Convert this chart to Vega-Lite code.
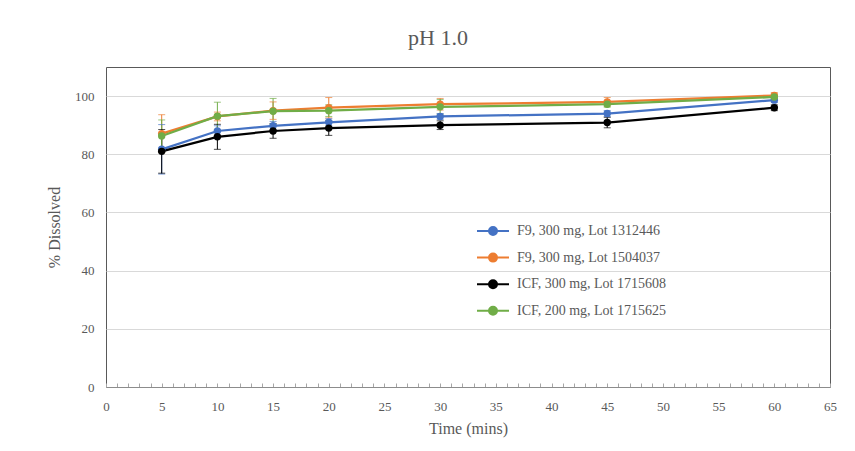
{
  "$schema": "https://vega.github.io/schema/vega-lite/v6.json",
  "autosize": {"type": "none"},
  "width": 724,
  "height": 320,
  "padding": {"left": 106, "top": 67, "right": 25, "bottom": 64},
  "background": "white",
  "title": {"text": "pH 1.0", "font": "Liberation Serif", "fontSize": 22, "fontWeight": "normal", "color": "#595959", "anchor": "middle", "dx": -30, "offset": 17},
  "config": {"view": {"stroke": "#595959", "strokeWidth": 1}},
  "data": {"values": [
    {"s": "F9, 300 mg, Lot 1312446", "t": 5, "y": 81.7, "lo": 73.2, "hi": 90.2},
    {"s": "F9, 300 mg, Lot 1312446", "t": 10, "y": 88, "lo": 86.2, "hi": 89.8},
    {"s": "F9, 300 mg, Lot 1312446", "t": 15, "y": 89.8, "lo": 88.3, "hi": 91.3},
    {"s": "F9, 300 mg, Lot 1312446", "t": 20, "y": 91, "lo": 89.8, "hi": 92.2},
    {"s": "F9, 300 mg, Lot 1312446", "t": 30, "y": 93, "lo": 92, "hi": 94},
    {"s": "F9, 300 mg, Lot 1312446", "t": 45, "y": 94, "lo": 93, "hi": 95},
    {"s": "F9, 300 mg, Lot 1312446", "t": 60, "y": 98.6, "lo": 97.8, "hi": 99.4},
    {"s": "F9, 300 mg, Lot 1504037", "t": 5, "y": 87.1, "lo": 80.6, "hi": 93.6},
    {"s": "F9, 300 mg, Lot 1504037", "t": 10, "y": 93, "lo": 91.5, "hi": 94.5},
    {"s": "F9, 300 mg, Lot 1504037", "t": 15, "y": 95, "lo": 92, "hi": 98},
    {"s": "F9, 300 mg, Lot 1504037", "t": 20, "y": 96, "lo": 92.5, "hi": 99.5},
    {"s": "F9, 300 mg, Lot 1504037", "t": 30, "y": 97.2, "lo": 95.2, "hi": 99.2},
    {"s": "F9, 300 mg, Lot 1504037", "t": 45, "y": 98, "lo": 96.5, "hi": 99.5},
    {"s": "F9, 300 mg, Lot 1504037", "t": 60, "y": 100.2, "lo": 99.2, "hi": 101.2},
    {"s": "ICF, 300 mg, Lot 1715608", "t": 5, "y": 81, "lo": 73.5, "hi": 88.5},
    {"s": "ICF, 300 mg, Lot 1715608", "t": 10, "y": 86, "lo": 81.7, "hi": 90.3},
    {"s": "ICF, 300 mg, Lot 1715608", "t": 15, "y": 88, "lo": 85.5, "hi": 90.5},
    {"s": "ICF, 300 mg, Lot 1715608", "t": 20, "y": 89, "lo": 86.5, "hi": 91.5},
    {"s": "ICF, 300 mg, Lot 1715608", "t": 30, "y": 90, "lo": 88.5, "hi": 91.5},
    {"s": "ICF, 300 mg, Lot 1715608", "t": 45, "y": 90.9, "lo": 89.1, "hi": 92.7},
    {"s": "ICF, 300 mg, Lot 1715608", "t": 60, "y": 96, "lo": 95, "hi": 97},
    {"s": "ICF, 200 mg, Lot 1715625", "t": 5, "y": 86.3, "lo": 80.8, "hi": 91.8},
    {"s": "ICF, 200 mg, Lot 1715625", "t": 10, "y": 93.1, "lo": 88.3, "hi": 97.9},
    {"s": "ICF, 200 mg, Lot 1715625", "t": 15, "y": 94.8, "lo": 90.4, "hi": 99.2},
    {"s": "ICF, 200 mg, Lot 1715625", "t": 20, "y": 95, "lo": 93, "hi": 97},
    {"s": "ICF, 200 mg, Lot 1715625", "t": 30, "y": 96.3, "lo": 93.8, "hi": 98.8},
    {"s": "ICF, 200 mg, Lot 1715625", "t": 45, "y": 97.2, "lo": 96.2, "hi": 98.2},
    {"s": "ICF, 200 mg, Lot 1715625", "t": 60, "y": 99.7, "lo": 98.7, "hi": 100.7}
  ]},
  "encoding": {
    "x": {"field": "t", "type": "quantitative", "scale": {"domain": [0, 65], "nice": false, "zero": false},
      "axis": {"values": [0,1,2,3,4,5,6,7,8,9,10,11,12,13,14,15,16,17,18,19,20,21,22,23,24,25,26,27,28,29,30,31,32,33,34,35,36,37,38,39,40,41,42,43,44,45,46,47,48,49,50,51,52,53,54,55,56,57,58,59,60,61,62,63,64,65],
        "labelExpr": "datum.value % 5 === 0 ? datum.label : ''", "labelOverlap": false, "labelFlush": false,
        "title": "Time (mins)", "titleFont": "Liberation Serif", "titleFontSize": 16, "titleFontWeight": "normal", "titleColor": "#595959", "titlePadding": 7,
        "labelFont": "Liberation Serif", "labelFontSize": 13, "labelColor": "#595959", "labelPadding": 17,
        "tickSize": -4, "tickColor": "#a6a6a6", "domainColor": "#8c8c8c", "grid": false}},
    "color": {"field": "s", "type": "nominal",
      "scale": {"domain": ["F9, 300 mg, Lot 1312446", "F9, 300 mg, Lot 1504037", "ICF, 300 mg, Lot 1715608", "ICF, 200 mg, Lot 1715625"], "range": ["#4472c4", "#ed7d31", "#000000", "#70ad47"]},
      "legend": {"orient": "none", "legendX": 376, "legendY": 153, "title": null,
        "symbolType": "M-1.6,0L1.6,0M0.4,0A0.4,0.4,0,1,1,-0.4,0A0.4,0.4,0,1,1,0.4,0Z",
        "symbolSize": 400, "symbolStrokeWidth": 2, "labelOffset": 13, "rowPadding": 7.6, "padding": 0,
        "labelFont": "Liberation Serif", "labelFontSize": 14, "labelColor": "#595959",
        "encode": {"symbols": {"update": {"fill": {"scale": "color", "field": "value"}, "stroke": {"scale": "color", "field": "value"}, "opacity": {"value": 1}}}}}}
  },
  "layer": [
    {"mark": {"type": "rule", "strokeWidth": 1},
     "encoding": {"y": {"field": "lo", "type": "quantitative", "scale": {"domain": [0, 110], "nice": false},
        "axis": {"values": [0, 20, 40, 60, 80, 100], "grid": true, "gridColor": "#d9d9d9", "ticks": false, "domain": false,
          "labelFont": "Liberation Serif", "labelFontSize": 13, "labelColor": "#595959", "labelPadding": 12,
          "title": "% Dissolved", "titleFont": "Liberation Serif", "titleFontSize": 16, "titleFontWeight": "normal", "titleColor": "#595959", "titlePadding": 12}},
       "y2": {"field": "hi"}}},
    {"mark": {"type": "tick", "orient": "horizontal", "size": 7, "thickness": 1},
     "encoding": {"y": {"field": "lo", "type": "quantitative"}}},
    {"mark": {"type": "tick", "orient": "horizontal", "size": 7, "thickness": 1},
     "encoding": {"y": {"field": "hi", "type": "quantitative"}}},
    {"mark": {"type": "line", "strokeWidth": 2.25},
     "encoding": {"y": {"field": "y", "type": "quantitative"}}},
    {"mark": {"type": "point", "filled": true, "opacity": 1, "size": 55},
     "encoding": {"y": {"field": "y", "type": "quantitative"}}}
  ]
}
